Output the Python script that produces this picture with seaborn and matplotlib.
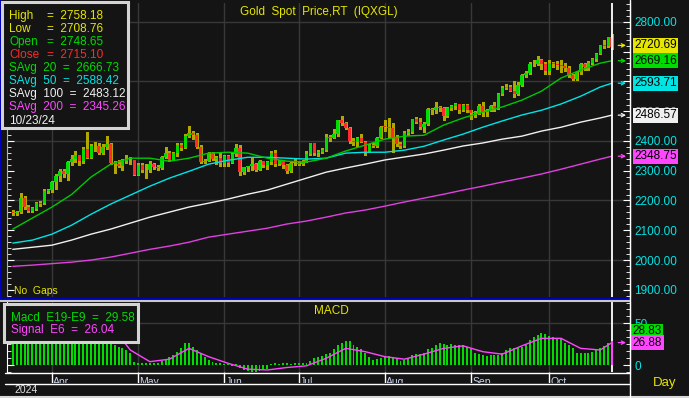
import numpy as np
import pandas as pd
import matplotlib
matplotlib.use('Agg')
import matplotlib.pyplot as plt
import seaborn as sns
from matplotlib.lines import Line2D
from matplotlib.patches import Rectangle
from matplotlib.ticker import MultipleLocator, FixedLocator, FormatStrFormatter

# ---- data ----
start_date = '2024-03-15'
end_date = '2024-10-23'
holidays = ['2024-03-29', '2024-05-27', '2024-06-19', '2024-07-04', '2024-09-02']

opens = [2160, 2157, 2163, 2208, 2178, 2164, 2172, 2192, 2190, 2232,
         2234, 2262, 2282, 2300, 2290, 2329, 2339, 2352, 2333, 2373, 2344, 2383,
         2383, 2361, 2379, 2391, 2327, 2322, 2316, 2332, 2337, 2335,
         2286, 2320, 2303, 2301, 2323, 2314, 2309, 2346, 2360, 2336, 2358, 2386, 2376, 2415, 2425, 2421, 2379, 2329, 2334, 2361, 2338, 2343,
         2327, 2350, 2327, 2355, 2375, 2294, 2311, 2316, 2324, 2303, 2333, 2319, 2329, 2360, 2322, 2334, 2319, 2298, 2327,
         2327, 2323, 2330, 2356, 2392, 2359, 2364, 2371, 2414, 2411, 2422, 2469, 2459, 2445, 2400, 2396, 2409, 2397, 2364, 2387, 2384, 2410,
         2447, 2446, 2443, 2409, 2390, 2382, 2427, 2431, 2472, 2465, 2447, 2456, 2507, 2504, 2513, 2512, 2484, 2512, 2518, 2524, 2504, 2521,
         2503, 2493, 2495, 2516, 2497, 2505, 2516, 2512, 2558, 2578, 2582, 2569, 2559, 2587, 2622, 2628, 2657, 2657, 2672, 2658,
         2634, 2663, 2657, 2656, 2653, 2644, 2622, 2608, 2630, 2657, 2649, 2662, 2674, 2692, 2721, 2719, 2748.65]
highs = [2168, 2166, 2224, 2215, 2186, 2178, 2196, 2198, 2238, 2240,
         2265, 2288, 2305, 2305, 2331, 2354, 2365, 2354, 2378, 2431, 2390, 2397,
         2393, 2388, 2418, 2393, 2333, 2335, 2338, 2353, 2345, 2337,
         2326, 2326, 2323, 2331, 2327, 2320, 2351, 2378, 2365, 2364, 2392, 2394, 2422, 2450, 2433, 2425, 2386, 2340, 2364, 2364, 2351, 2360,
         2354, 2352, 2364, 2388, 2387, 2314, 2317, 2342, 2327, 2335, 2334, 2333, 2365, 2368, 2335, 2336, 2324, 2331, 2339,
         2332, 2335, 2365, 2393, 2393, 2370, 2376, 2424, 2419, 2440, 2470, 2483, 2462, 2447, 2410, 2413, 2423, 2400, 2390, 2393, 2413, 2451,
         2470, 2477, 2461, 2420, 2398, 2432, 2440, 2474, 2479, 2478, 2464, 2509, 2510, 2531, 2516, 2514, 2513, 2520, 2528, 2525, 2524, 2523,
         2503, 2500, 2523, 2529, 2506, 2519, 2529, 2560, 2586, 2590, 2589, 2600, 2598, 2626, 2634, 2664, 2670, 2685, 2675, 2665,
         2673, 2665, 2667, 2671, 2660, 2650, 2624, 2634, 2661, 2660, 2669, 2677, 2695, 2722, 2740, 2749, 2758.18]
lows = [2150, 2152, 2157, 2170, 2160, 2160, 2168, 2183, 2188, 2226,
        2228, 2240, 2266, 2280, 2268, 2320, 2328, 2320, 2325, 2341, 2343, 2367,
        2356, 2356, 2372, 2322, 2292, 2311, 2304, 2327, 2323, 2285,
        2285, 2294, 2277, 2297, 2307, 2303, 2306, 2343, 2333, 2336, 2351, 2370, 2375, 2412, 2407, 2375, 2326, 2325, 2334, 2335, 2323, 2315,
        2315, 2315, 2326, 2351, 2286, 2288, 2299, 2303, 2299, 2302, 2311, 2306, 2324, 2316, 2318, 2310, 2293, 2296, 2319,
        2318, 2319, 2328, 2353, 2353, 2351, 2360, 2367, 2400, 2410, 2415, 2455, 2440, 2393, 2385, 2383, 2396, 2353, 2364, 2379, 2380, 2409,
        2432, 2410, 2364, 2384, 2376, 2381, 2419, 2425, 2460, 2441, 2431, 2455, 2489, 2494, 2499, 2470, 2480, 2504, 2507, 2495, 2501, 2496,
        2472, 2481, 2491, 2485, 2485, 2500, 2500, 2508, 2555, 2573, 2567, 2546, 2555, 2585, 2614, 2623, 2651, 2654, 2643, 2625,
        2624, 2647, 2641, 2633, 2634, 2614, 2605, 2603, 2625, 2638, 2638, 2659, 2667, 2692, 2711, 2714, 2708.76]
closes = [2157, 2163, 2210, 2178, 2164, 2174, 2192, 2188, 2232, 2234,
          2262, 2282, 2300, 2290, 2329, 2339, 2352, 2333, 2373, 2344, 2383, 2383,
          2361, 2379, 2391, 2327, 2322, 2316, 2332, 2337, 2335, 2286,
          2320, 2303, 2301, 2323, 2314, 2309, 2346, 2360, 2336, 2358, 2386, 2376, 2415, 2425, 2421, 2379, 2329, 2334, 2361, 2338, 2343, 2327,
          2350, 2327, 2355, 2375, 2294, 2311, 2316, 2324, 2303, 2333, 2319, 2329, 2360, 2322, 2334, 2319, 2298, 2327, 2327,
          2323, 2330, 2356, 2392, 2359, 2364, 2371, 2414, 2411, 2422, 2469, 2459, 2445, 2400, 2396, 2409, 2397, 2364, 2387, 2384, 2410, 2447,
          2446, 2443, 2409, 2390, 2382, 2427, 2431, 2472, 2465, 2447, 2456, 2507, 2504, 2513, 2512, 2484, 2512, 2518, 2524, 2504, 2521, 2503,
          2493, 2495, 2516, 2497, 2505, 2516, 2512, 2558, 2578, 2582, 2569, 2559, 2587, 2622, 2628, 2657, 2657, 2672, 2658, 2634,
          2663, 2657, 2656, 2653, 2644, 2622, 2608, 2630, 2657, 2649, 2662, 2674, 2692, 2721, 2719, 2748, 2715.10]

# moving averages, read every 5th bar plus the last one
sma20 = [2104, 2141, 2178, 2220, 2279, 2322, 2342, 2342, 2332, 2342, 2359, 2362, 2359, 2342, 2332, 2329,
         2342, 2366, 2386, 2406, 2416, 2419, 2453, 2477, 2497, 2514, 2537, 2567, 2611, 2638, 2661, 2669.16]
sma50 = [2057, 2067, 2087, 2117, 2154, 2188, 2218, 2248, 2275, 2298, 2322, 2335, 2345, 2345, 2342, 2339,
         2342, 2359, 2362, 2362, 2369, 2382, 2403, 2423, 2446, 2467, 2487, 2503, 2524, 2550, 2581, 2593.71]
sma100 = [2036, 2043, 2050, 2067, 2087, 2104, 2124, 2144, 2161, 2178, 2191, 2205, 2221, 2235, 2255, 2275,
          2295, 2309, 2322, 2336, 2346, 2356, 2369, 2383, 2393, 2406, 2416, 2433, 2446, 2463, 2477, 2486.57]
sma200 = [1979, 1983, 1988, 1993, 2000, 2010, 2023, 2036, 2047, 2060, 2077, 2087, 2097, 2107, 2121, 2131,
          2144, 2158, 2168, 2181, 2195, 2208, 2221, 2235, 2248, 2262, 2275, 2289, 2305, 2322, 2339, 2348.75]

macd = [32, 30, 29, 33, 34, 32, 30, 31, 34, 38,
        43, 48, 53, 55, 59, 60, 62, 61, 62, 60,
        61, 58, 52, 46, 40, 33, 24, 22, 20, 18,
        14, 4, 3, 2, 2, 2, 2, 3, 5, 7,
        10, 12, 16, 21, 26, 27, 22, 18, 14, 10,
        6, 4, 3, 2, 1, 1, -1, 1, -4, -6,
        -7, -8, -8, -7, -6, -5, 1, 2, 1, 2,
        2, 1, 2, 2, 2, 3, 5, 8, 10, 11,
        13, 15, 19, 24, 27, 29, 29, 24, 22, 19,
        14, 10, 6, 7, 9, 11, 11, 10, 8, 5,
        6, 8, 12, 13, 13, 15, 19, 21, 24, 26,
        25, 24, 25, 24, 24, 24, 22, 19, 15, 13,
        12, 11, 12, 12, 12, 14, 18, 20, 20, 20,
        22, 24, 30, 34, 36, 39, 37, 35, 34, 33,
        31, 27, 24, 20, 15, 14, 14, 14, 16, 18,
        20, 23, 26, 28.83]
signal = [30, 31, 35, 50, 58, 48, 18, 4, 7, 20, 10, 2, -5, -6, -3, -1,
          8, 20, 16, 10, 7, 13, 20, 23, 16, 13, 23, 32, 32, 20, 18, 26.88]

price_boxes = [2720.69, 2669.16, 2593.71, 2486.57, 2348.75]
macd_boxes = [28.83, 26.88]

# ---- colours ----
BG = '#141414'
GRID = '#383838'
YEL = '#e6e600'
GRN = '#00dc00'
RED = '#ff2a2a'
CYAN = '#00e4e4'
WHITE = '#f0f0f0'
MAG = '#ff46ff'
WICK = '#b0a800'

sns.set_style('dark', {'axes.facecolor': BG, 'figure.facecolor': BG})
plt.rcParams['font.family'] = ['Liberation Sans', 'DejaVu Sans']

dates = pd.bdate_range(start_date, end_date)
dates = dates[~dates.isin(pd.to_datetime(holidays))]
n = len(dates)
idx = np.arange(n)
ma_idx = list(range(0, n, 5)) + [n - 1]
month_idx = [i for i in range(1, n) if dates[i].month != dates[i - 1].month]

W, H = 689, 398
BAR_PX = 3.916   # pixels per bar in the reference
X0_PX = 12.8     # pixel x of the first bar

fig = plt.figure(figsize=(W / 100, H / 100), dpi=100, facecolor=BG)


def fx(x):
    return x / W


def fy(y):
    return 1 - y / H


def px_axes(x0, y0, x1, y1):
    return fig.add_axes([fx(x0), fy(y1), (x1 - x0) / W, (y1 - y0) / H])


xlim = ((7 - X0_PX) / BAR_PX, (630 - X0_PX) / BAR_PX)

# ---- price panel ----
ax = px_axes(7, 3, 630, 297)
ax.set_facecolor(BG)
ax.set_xlim(*xlim)
ax.set_ylim(1876, 2863)
for g in range(2000, 2801, 200):
    ax.axhline(g, color=GRID, lw=1, zorder=0)
for m in month_idx:
    ax.axvline(m, color=GRID, lw=1, zorder=0)

o = np.array(opens)
c = np.array(closes)
ax.vlines(idx, lows, highs, color=WICK, lw=1, zorder=2, antialiased=False)
body_col = [GRN if cc > oo else (RED if cc < oo else WICK) for oo, cc in zip(o, c)]
ax.bar(idx, np.maximum(np.abs(c - o), 2.5), bottom=np.minimum(o, c), width=0.78,
       color=body_col, linewidth=0, zorder=3, antialiased=False)

for vals, col in [(sma200, '#e040e0'), (sma100, WHITE), (sma50, CYAN), (sma20, '#00c800')]:
    sns.lineplot(x=ma_idx, y=vals, ax=ax, color=col, linewidth=1, legend=False, zorder=4)

ax.axvline(n - 1, color='white', lw=1.3, zorder=5)

ax.set_xlabel('')
ax.set_ylabel('')
ax.set_xticks([])
ax.yaxis.set_major_locator(FixedLocator(range(1900, 2801, 100)))
ax.yaxis.set_minor_locator(MultipleLocator(20))
ax.yaxis.set_major_formatter(FormatStrFormatter('%.2f'))
ax.tick_params(axis='y', which='both', direction='in', colors='white', labelcolor=CYAN,
               left=True, right=True, labelleft=False, labelright=True, pad=3)
ax.tick_params(axis='y', which='major', length=5, labelsize=8.5)
ax.tick_params(axis='y', which='minor', length=3)
for s in ['top', 'bottom']:
    ax.spines[s].set_visible(False)
ax.spines['right'].set_color('white')
ax.spines['left'].set_color('#b0b0b0')

box_cols = [YEL, GRN, CYAN, WHITE, MAG]
arrow_cols = [YEL, GRN, CYAN, WHITE, MAG]
for v, bc, ac in zip(price_boxes, box_cols, arrow_cols):
    ax.annotate(f'{v:.2f}', xy=(1.0, v), xycoords=('axes fraction', 'data'),
                xytext=(3, 0), textcoords='offset points', ha='left', va='center',
                fontsize=8.5, color='black', annotation_clip=False, zorder=10,
                bbox=dict(boxstyle='square,pad=0.12', fc=bc, ec='none'))
    ax.annotate('', xy=(n + 2.6, v), xytext=(n + 0.6, v),
                arrowprops=dict(arrowstyle='->', color=ac, lw=0.9, mutation_scale=6,
                                shrinkA=0, shrinkB=0), annotation_clip=False, zorder=6)

ax.text(0.5, 0.97, 'Gold  Spot  Price,RT  (IQXGL)', transform=ax.transAxes, ha='center',
        va='center', color=YEL, fontsize=8.5)
ax.text(0.011, 0.02, 'No  Gaps', transform=ax.transAxes, ha='left', va='center',
        color=YEL, fontsize=7.5)

# ---- MACD panel ----
axm = px_axes(7, 302, 630, 372)
axm.set_facecolor(BG)
axm.set_xlim(*xlim)
axm.set_ylim(-8.4, 75.6)
axm.axhline(50, color=GRID, lw=1, zorder=0)
for m in month_idx:
    axm.axvline(m, color=GRID, lw=1, zorder=0)
bar_col = [GRN] * (n - 1) + [MAG]
axm.bar(idx, macd, width=0.5, color=bar_col, linewidth=0, zorder=2, antialiased=False)
sns.lineplot(x=ma_idx, y=signal, ax=axm, color=MAG, linewidth=1, legend=False, zorder=3)
axm.axvline(n - 1, color='white', lw=1.3, zorder=1)
axm.set_xlabel('')
axm.set_ylabel('')
axm.set_xticks([])
axm.yaxis.set_major_locator(FixedLocator([0, 50]))
axm.yaxis.set_minor_locator(MultipleLocator(50 / 6))
axm.yaxis.set_major_formatter(FormatStrFormatter('%d'))
axm.tick_params(axis='y', which='both', direction='in', colors='white', labelcolor=CYAN,
                left=True, right=True, labelleft=False, labelright=True, pad=3)
axm.tick_params(axis='y', which='major', length=5, labelsize=8.5)
axm.tick_params(axis='y', which='minor', length=3)
for s in ['top', 'bottom']:
    axm.spines[s].set_visible(False)
axm.spines['right'].set_color('white')
axm.spines['left'].set_color('white')
for v, bc, dy in zip(macd_boxes, [GRN, MAG], [7, 0]):
    axm.annotate(f'{v:.2f}', xy=(1.0, v), xycoords=('axes fraction', 'data'),
                 xytext=(2, dy), textcoords='offset points', ha='left', va='center',
                 fontsize=8.5, color='black', annotation_clip=False, zorder=10,
                 bbox=dict(boxstyle='square,pad=0.12', fc=bc, ec='none'))
axm.annotate('', xy=(n + 2.6, macd_boxes[1]), xytext=(n + 0.6, macd_boxes[1]),
             arrowprops=dict(arrowstyle='->', color=MAG, lw=0.9, mutation_scale=6,
                             shrinkA=0, shrinkB=0), annotation_clip=False, zorder=6)
axm.text(0.52, 0.87, 'MACD', transform=axm.transAxes, ha='center', va='center',
         color=YEL, fontsize=8.5)

# ---- date strip ----
axd = px_axes(7, 372, 630, 383)
axd.set_facecolor(BG)
axd.set_xlim(*xlim)
axd.set_ylim(0, 1)
axd.axis('off')
axd.vlines(month_idx, 0, 1, color='white', lw=1)
for m in month_idx:
    axd.text(m + 0.35, 0.12, dates[m].strftime('%b'), ha='left', va='center',
             color='#cdd6ee', fontsize=7.5, clip_on=True)

# ---- frame lines ----
frame = [([fx(5), fx(630)], [fy(372.5), fy(372.5)], 'white', 1),
         ([fx(5), fx(630)], [fy(383.5), fy(383.5)], 'white', 1),
         ([0, fx(630)], [fy(297.5), fy(297.5)], '#0000b4', 2),
         ([0, fx(630)], [fy(300.5), fy(300.5)], '#c8c8c8', 1.5),
         ([fx(1), fx(1)], [fy(0), fy(297)], '#0000b4', 1.5),
         ([0, 1], [fy(397), fy(397)], '#d8d8d8', 1.5),
         ([fx(630), fx(630)], [fy(0), fy(398)], 'white', 1)]
for xs, ys, col, lw in frame:
    fig.add_artist(Line2D(xs, ys, color=col, lw=lw, transform=fig.transFigure, zorder=5))

fig.text(fx(14), fy(390), '2024', color='#e0e0e0', fontsize=7.5, va='center', ha='left')
fig.text(fx(653), fy(383), 'Day', color=YEL, fontsize=9.5, va='center', ha='left')

# ---- legend boxes ----
fig.add_artist(Rectangle((fx(2), fy(128)), 126 / W, 126 / H, transform=fig.transFigure,
                         fc=BG, ec='#d4d4d4', lw=2.2, zorder=20))
rows = [('High', '=  2758.18', YEL), ('Low', '=  2708.76', YEL),
        ('Open', '=  2748.65', GRN), ('Close', '=  2715.10', RED)]
for k, (name, val, col) in enumerate(rows):
    yy = 15.7 + 13.1 * k
    fig.text(fx(9), fy(yy), name, color=col, fontsize=8.5, va='center', zorder=21)
    fig.text(fx(47), fy(yy), val, color=col, fontsize=8.5, va='center', zorder=21)
rows2 = [('SAvg  20  =  2666.73', GRN), ('SAvg  50  =  2588.42', CYAN),
         ('SAvg  100  =  2483.12', WHITE), ('SAvg  200  =  2345.26', MAG),
         ('10/23/24', WHITE)]
for k, (s, col) in enumerate(rows2):
    yy = 15.7 + 13.1 * (k + 4)
    fig.text(fx(9), fy(yy), s, color=col, fontsize=8.5, va='center', zorder=21)

fig.add_artist(Rectangle((fx(4), fy(342)), 134 / W, 38 / H, transform=fig.transFigure,
                         fc=BG, ec='#d4d4d4', lw=2.2, zorder=20))
fig.text(fx(11), fy(318), 'Macd  E19-E9  =  29.58', color=GRN, fontsize=8.5, va='center', zorder=21)
fig.text(fx(11), fy(330.5), 'Signal  E6  =  26.04', color=MAG, fontsize=8.5, va='center', zorder=21)

fig.savefig('out.png', dpi=100, facecolor=BG)
